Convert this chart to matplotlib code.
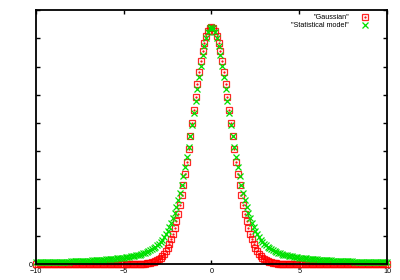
import numpy as np
import matplotlib
matplotlib.use('Agg')
import matplotlib.pyplot as plt
from matplotlib.legend_handler import HandlerTuple

# sample grid of the curves
x_vals = np.linspace(-10, 10, 201)

# right half (x = 0.0 .. 10.0, step 0.1), curves are symmetric about 0
gauss_half = [
    0.4200, 0.4182, 0.4129, 0.4041, 0.3922, 0.3773, 0.3599, 0.3404, 0.3192, 0.2968,
    0.2736, 0.2500, 0.2266, 0.2035, 0.1813, 0.1601, 0.1402, 0.1217, 0.1047, 0.0894,
    0.0756, 0.0634, 0.0528, 0.0435, 0.0356, 0.0288, 0.0232, 0.0185, 0.0146, 0.0114,
    0.0089, 0.0068, 0.0052, 0.0039, 0.0030, 0.0022, 0.0016, 0.0012, 0.0009, 0.0006,
    0.0004, 0.0003, 0.0002, 0.0002, 0.0001, 0.0001] + [0.0] * 55

stat_half = [
    0.4200, 0.4178, 0.4112, 0.4006, 0.3867, 0.3700, 0.3513, 0.3312, 0.3103, 0.2890,
    0.2678, 0.2470, 0.2268, 0.2075, 0.1890, 0.1716, 0.1554, 0.1403, 0.1263, 0.1135,
    0.1019, 0.0913, 0.0818, 0.0734, 0.0658, 0.0591, 0.0532, 0.0480, 0.0434, 0.0394,
    0.0360, 0.0329, 0.0303, 0.0279, 0.0259, 0.0241, 0.0226, 0.0212, 0.0199, 0.0188,
    0.0178, 0.0169, 0.0161, 0.0154, 0.0147, 0.0140, 0.0135, 0.0129, 0.0124, 0.0119,
    0.0115, 0.0110, 0.0106, 0.0102, 0.0099, 0.0095, 0.0092, 0.0089, 0.0086, 0.0083,
    0.0081, 0.0078, 0.0076, 0.0074, 0.0071, 0.0069, 0.0067, 0.0065, 0.0063, 0.0062,
    0.0060, 0.0058, 0.0057, 0.0055, 0.0054, 0.0052, 0.0051, 0.0050, 0.0049, 0.0047,
    0.0046, 0.0045, 0.0044, 0.0043, 0.0042, 0.0041, 0.0040, 0.0039, 0.0038, 0.0037,
    0.0037, 0.0036, 0.0035, 0.0034, 0.0034, 0.0033, 0.0032, 0.0032, 0.0031, 0.0030,
    0.0030]

gauss = gauss_half[:0:-1] + gauss_half
stat = stat_half[:0:-1] + stat_half

x_ticks = [-10, -5, 0, 5, 10]
y_ticks = [0, 0.05, 0.10, 0.15, 0.20, 0.25, 0.30, 0.35, 0.40, 0.45]
y_labels = ['0'] + [''] * 9

plt.rcParams['font.family'] = ['Liberation Sans', 'DejaVu Sans']

fig = plt.figure(figsize=(4, 2.8), dpi=100)
ax = fig.add_axes([0.09, 0.057, 0.8775, 0.907])

# gaussian: open squares with a dot in the middle (gnuplot style, not clipped)
sq, = ax.plot(x_vals, gauss, ls='none', marker='s', ms=5, mfc='none',
              mec='red', mew=0.9, alpha=0.85, clip_on=False)
dot, = ax.plot(x_vals, gauss, ls='none', marker='.', ms=1.2, color='red',
               clip_on=False)
# statistical model: crosses
cr, = ax.plot(x_vals, stat, ls='none', marker='x', ms=4.2, mew=0.9,
              color='#00e000', clip_on=False)

ax.set_xlim(-10, 10)
ax.set_ylim(0, 0.45)
ax.set_xticks(x_ticks)
ax.set_yticks(y_ticks)
ax.set_yticklabels(y_labels)
ax.tick_params(direction='in', top=True, right=True, length=3, width=1,
               labelsize=5.2)
ax.tick_params(axis='x', pad=3)
ax.tick_params(axis='y', pad=2)
# border drawn over the markers, like gnuplot
for s in ax.spines.values():
    s.set_linewidth(1.3)
    s.set_zorder(5)

ax.legend([(sq, dot), cr], ['"Gaussian"', '"Statistical model"'],
          handler_map={tuple: HandlerTuple(ndivide=1)},
          loc='upper right', bbox_to_anchor=(0.956, 0.992),
          markerfirst=False, frameon=False, fontsize=5.2,
          handlelength=1.2, handletextpad=1.6, labelspacing=0.1,
          borderaxespad=0.0, borderpad=0.3)

plt.savefig('out.png', dpi=100)
